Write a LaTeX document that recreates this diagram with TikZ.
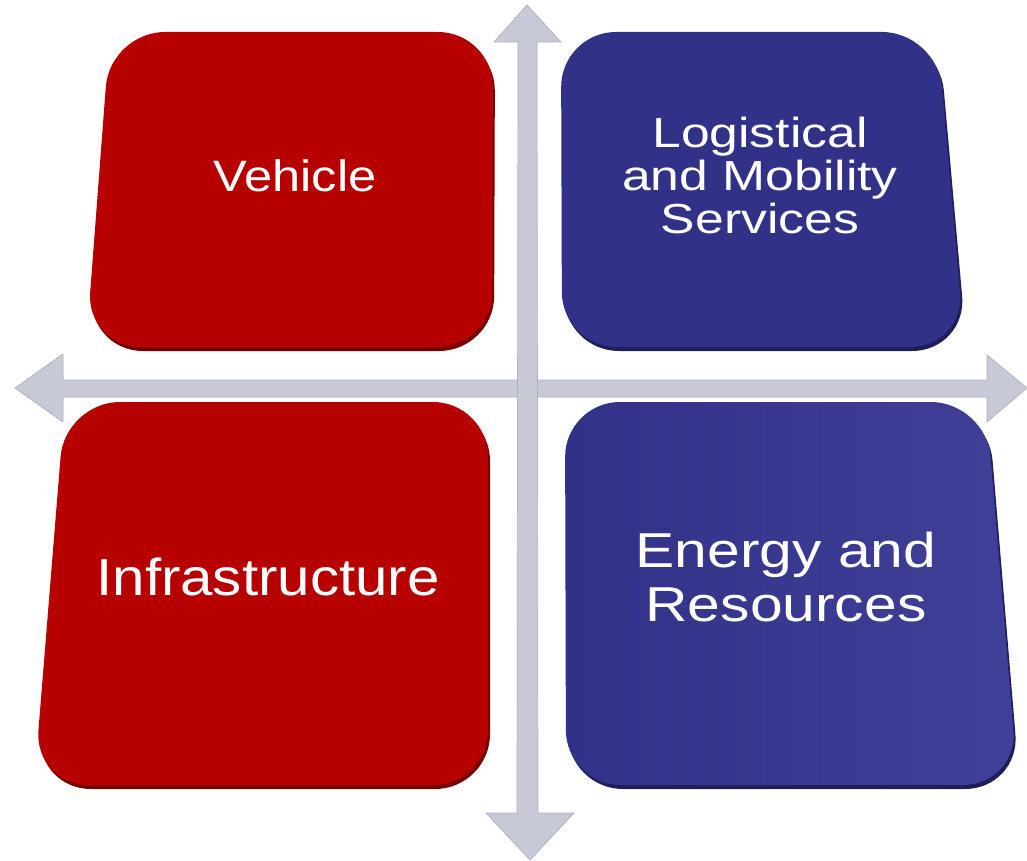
\documentclass[tikz,border=0pt]{standalone}
\usepackage{fontspec}
\setmainfont{Liberation Sans}
\usepackage{graphicx}
\definecolor{cRed}{RGB}{183,0,0}
\definecolor{cRedDark}{RGB}{120,0,0}
\definecolor{cRedLight}{RGB}{225,20,20}
\definecolor{cBlue}{RGB}{49,49,136}
\definecolor{cBlueB}{RGB}{64,64,152}
\definecolor{cBlueDark}{RGB}{30,30,90}
\definecolor{cArrow}{RGB}{200,201,214}
\definecolor{cArrowEdge}{RGB}{176,177,194}
\newcommand{\hstretch}[2]{\scalebox{#1}[1]{#2}}
\begin{document}
\begin{tikzpicture}[x=1pt,y=-1pt,
  arrowbody/.style={fill=cArrow,draw=cArrowEdge,line width=0.7pt,line join=miter},
  tileshape/.style={rounded corners=55pt},
  tileshadow/.style={tileshape,xshift=2pt,yshift=-4pt},
  tiletext/.style={text=white,inner sep=0pt,align=center}]
\useasboundingbox (0,0) rectangle (1027,861);

% horizontal double arrow
\filldraw[arrowbody] (15,388) -- (63,354) -- (63,380) -- (987,380) -- (987,355)
  -- (1027,388) -- (987,422) -- (987,397) -- (63,397) -- (63,422) -- cycle;
% vertical double arrow
\filldraw[arrowbody] (527,5) -- (561,42) -- (537,42) -- (538,813) -- (574,813)
  -- (530,860) -- (486,813) -- (517,813) -- (518,42) -- (494,42) -- cycle;

% top-left tile (red)
\fill[cRedDark,tileshadow] (110,32) -- (493,32) -- (492,347) -- (86,347) -- cycle;
\fill[cRed,tileshape] (110,32) -- (493,32) -- (492,347) -- (86,347) -- cycle;
% top-right tile (blue)
\fill[cBlueDark,tileshadow] (561,32) -- (937,32) -- (965,347) -- (562,347) -- cycle;
\fill[cBlue,tileshape] (561,32) -- (937,32) -- (965,347) -- (562,347) -- cycle;
% bottom-left tile (red)
\fill[cRedDark,tileshadow] (65,402) -- (488,402) -- (488,785) -- (34,785) -- cycle;
\fill[cRed,tileshape] (65,402) -- (488,402) -- (488,785) -- (34,785) -- cycle;
% bottom-right tile (blue)
\fill[cBlueDark,tileshadow] (565,402) -- (986,402) -- (1018,785) -- (566,785) -- cycle;
\shade[tileshape,left color=cBlue,right color=cBlueB] (565,402) -- (986,402) -- (1018,785) -- (566,785) -- cycle;

% labels
\node[tiletext,anchor=base,font=\fontsize{44}{46}\selectfont] (veh) at (295,191)
  {\hstretch{1.15}{Vehicle}};
\node[tiletext,anchor=center,font=\fontsize{42}{43}\selectfont] (log) at (760,175)
  {\hstretch{1.23}{Logistical}\\\hstretch{1.23}{and Mobility}\\\hstretch{1.23}{Services}};
\node[tiletext,anchor=base,font=\fontsize{52}{54}\selectfont] (inf) at (268,595)
  {\hstretch{1.12}{Infrastructure}};
\node[tiletext,anchor=center,font=\fontsize{49}{54}\selectfont] (ene) at (786,577)
  {\hstretch{1.2}{Energy and}\\\hstretch{1.2}{Resources}};
\end{tikzpicture}
\end{document}
